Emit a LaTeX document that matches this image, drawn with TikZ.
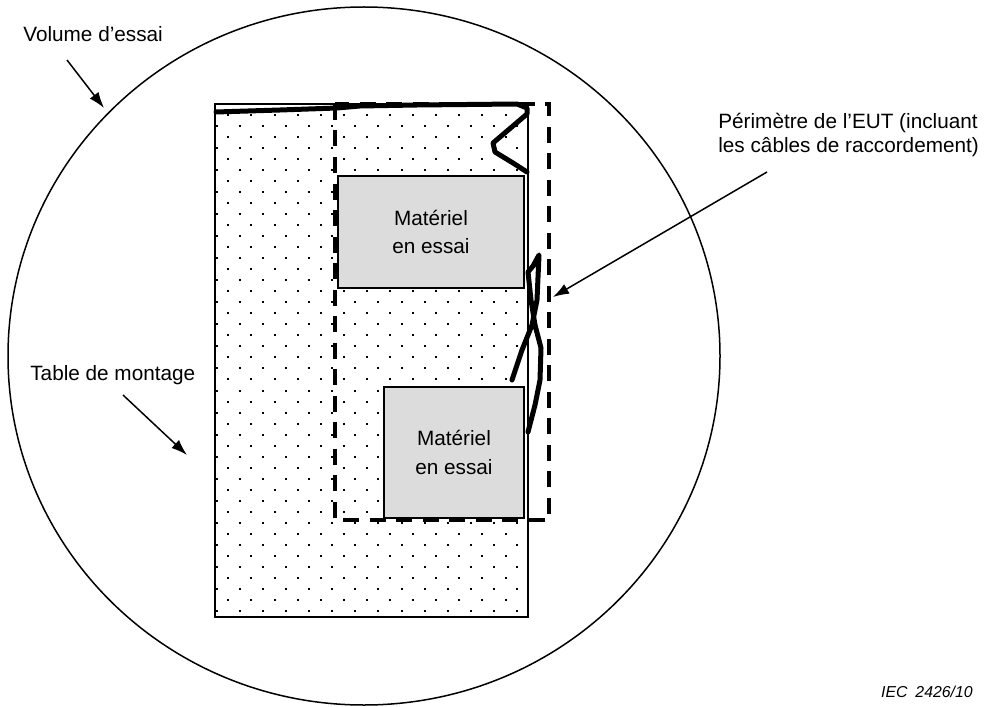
\documentclass[tikz,border=0pt]{standalone}
\usepackage{fontspec}
\setmainfont{Liberation Sans}
\usepackage{xcolor}
\usepackage{tikz}
\usetikzlibrary{arrows.meta}
\definecolor{boxgray}{RGB}{220,220,220}
\tikzset{>={Latex[length=3.2mm,width=2.2mm]},
    eutbox/.style={draw, fill=boxgray, line width=0.3mm, align=center, inner sep=0pt},
    perimeter/.style={line width=0.95mm, dash pattern=on 3.2mm off 2.1mm},
    cable/.style={line width=1mm, line cap=round, line join=round},
    pointer/.style={->, line width=0.3mm},
    callout/.style={inner sep=0pt, anchor=base west}}

\begin{document}
\begin{tikzpicture}[x=0.2mm, y=-0.2mm, font=\fontsize{11.8}{16.3}\selectfont]
    \useasboundingbox (0,0) rectangle (990,707);
    \node[draw, line width=0.25mm, minimum width=62.6mm, minimum height=102.6mm, inner sep=0pt] (table) at (371.5,360.5) {};
    \begin{scope}
      \clip (table.south west) rectangle (table.north east);
      \foreach \k in {-1, 0, ..., 45} {
        \pgfmathsetmacro{\yrow}{115 + 11.02*\k}
        \pgfmathsetmacro{\xrow}{mod(\k+2,2)==1 ? 216.7 : 228.3}
        \foreach \j in {0, ..., 13}
          \fill (\xrow + 23.1*\j - 1, \yrow - 1) rectangle ++(2, 2);
      }
    \end{scope}
    \node[eutbox, minimum width=37.2mm, minimum height=22.4mm] (eut1) at (431,232) {Matériel\\en essai};
    \node[eutbox, minimum width=28mm, minimum height=26.2mm] (eut2) at (454,452.5) {Matériel\\en essai};
    \draw[cable] (216,112) -- (280,110) -- (337,108) -- (360,106) -- (417,105) -- (517,104)
      -- (527,108) -- (527,114) -- (493,143) -- (495,152) -- (513,163) -- (527,172);
    \draw[cable] (512,380) -- (522,350) -- (532,325) -- (537,300) -- (539,255) -- (533,266)
      -- (528,272) -- (531,300) -- (535,325) -- (541,348) -- (540,380) -- (535,405) -- (528,432);
    \draw[perimeter] (335,104) rectangle (549,520);
    \draw[line width=0.3mm] (364,356) ellipse [x radius=356, y radius=349];

    \node[callout] (volume) at (23,42) {Volume d’essai};
    \coordinate (volume from) at (67,60);
    \coordinate (volume to) at (104,108);
    \draw[pointer] (volume from) -- (volume to);

    \node[callout] (mounting) at (30,380) {Table de montage};
    \coordinate (mounting from) at (123,395);
    \coordinate (mounting to) at (187,455);
    \draw[pointer] (mounting from) -- (mounting to);

    \node[callout, align=left, font=\fontsize{11.8}{13.8}\selectfont] (eutlabel) at (718,153)
      {Périmètre de l’EUT (incluant\\les câbles de raccordement)};
    \coordinate (eutlabel from) at (767,172);
    \coordinate (eutlabel to) at (553,297);
    \draw[pointer] (eutlabel from) -- (eutlabel to);

    \node[callout, anchor=base east, font=\fontsize{9}{11}\selectfont\itshape] (iec) at (973,697) {IEC\hspace{0.5em}2426/10};
\end{tikzpicture}
\end{document}
